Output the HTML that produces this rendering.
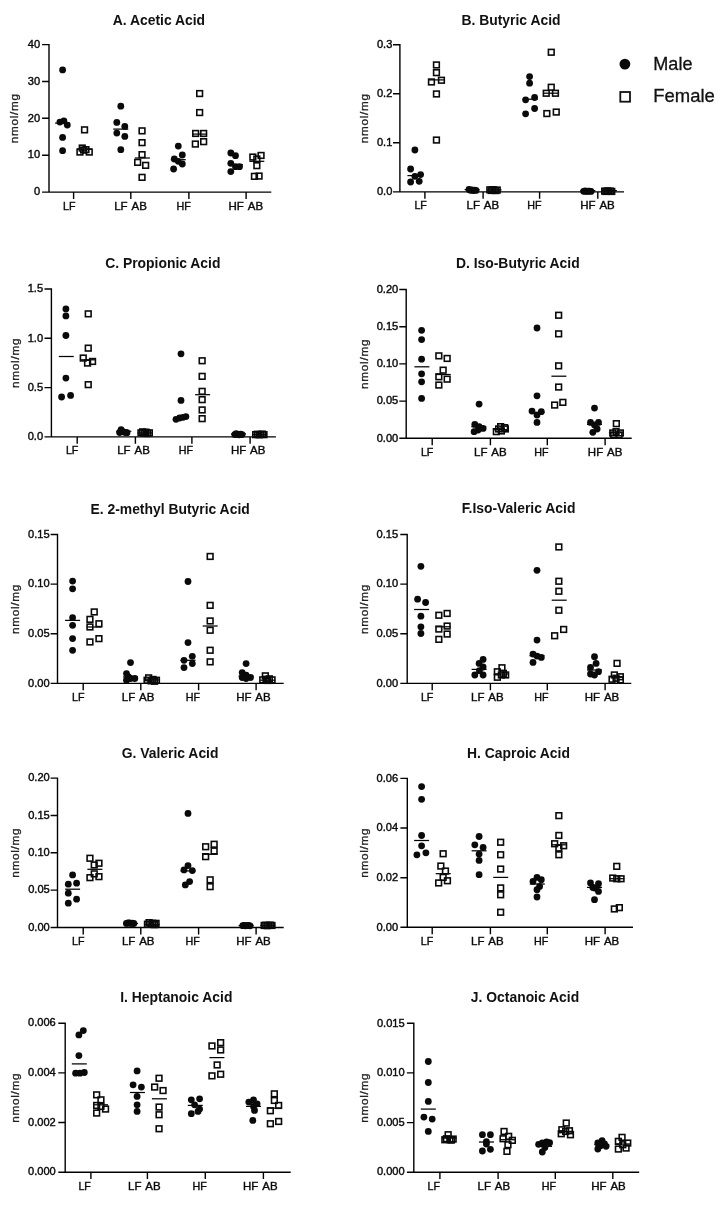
<!DOCTYPE html>
<html><head><meta charset="utf-8"><title>SCFA</title>
<style>
html,body{margin:0;padding:0;background:#fff;}
body{width:722px;height:1207px;overflow:hidden;}
svg{display:block;font-family:"Liberation Sans",sans-serif;filter:blur(0.35px);}
.t{font-size:13.9px;font-weight:bold;text-anchor:middle;fill:#111;}
.k{font-size:11.1px;fill:#0a0a0a;stroke:#0a0a0a;stroke-width:.4;}
.yl{font-size:11.7px;fill:#222;text-anchor:middle;letter-spacing:.75px;stroke:#222;stroke-width:.3;}
.ax{stroke:#000;stroke-width:1.4;fill:none;stroke-linecap:square;}
.m{fill:#0a0a0a;}
.f{fill:none;stroke:#0a0a0a;stroke-width:1.6;}
.mn{stroke:#000;stroke-width:1.25;}
.lg{font-size:18.2px;fill:#111;stroke:#111;stroke-width:.3;}
.xl{font-size:11.5px;stroke-width:.4;word-spacing:1.3px;}
</style></head><body>
<svg width="722" height="1207" viewBox="0 0 722 1207">
<rect width="722" height="1207" fill="#fff"/>

<g>
<text class="t" x="158.9" y="24.8">A. Acetic Acid</text>
<path class="ax" d="M49.0 44.6V192.1H270.6M49.0 192.1h-6.2M49.0 155.2h-6.2M49.0 118.3h-6.2M49.0 81.5h-6.2M49.0 44.6h-6.2M73.6 192.1v6.2M130.8 192.1v6.2M188.9 192.1v6.2M246.1 192.1v6.2"/>
<text class="k" text-anchor="end" x="40.1" y="195.3">0</text>
<text class="k" text-anchor="end" x="40.1" y="158.4">10</text>
<text class="k" text-anchor="end" x="40.1" y="121.5">20</text>
<text class="k" text-anchor="end" x="40.1" y="84.7">30</text>
<text class="k" text-anchor="end" x="40.1" y="47.8">40</text>
<text class="k xl" x="63.1" y="209.6" textLength="12.5" lengthAdjust="spacingAndGlyphs">LF</text>
<text class="k xl" text-anchor="middle" x="130.5" y="209.6">LF AB</text>
<text class="k xl" x="176.6" y="209.6" textLength="14.3" lengthAdjust="spacingAndGlyphs">HF</text>
<text class="k xl" text-anchor="middle" x="245.8" y="209.6">HF AB</text>
<text class="yl" transform="translate(18.3 118.3) rotate(-90)" x="0" y="0">nmol/mg</text>
<path class="mn" d="M55.1 123.1h15.0"/>
<path class="mn" d="M113.3 129.1h15.0"/>
<path class="mn" d="M170.8 159.7h15.0"/>
<path class="mn" d="M228.0 164.7h15.0"/>
<path class="mn" d="M77.0 149.0h15.0"/>
<path class="mn" d="M134.9 158.0h15.0"/>
<path class="mn" d="M192.1 134.1h15.0"/>
<path class="mn" d="M249.3 161.3h15.0"/>
<circle class="m" cx="62.6" cy="69.9" r="3.4"/>
<circle class="m" cx="59.9" cy="122.1" r="3.4"/>
<circle class="m" cx="63.9" cy="120.8" r="3.4"/>
<circle class="m" cx="67.3" cy="125.1" r="3.4"/>
<circle class="m" cx="62.6" cy="137.4" r="3.4"/>
<circle class="m" cx="62.6" cy="150.7" r="3.4"/>
<circle class="m" cx="120.8" cy="106.2" r="3.4"/>
<circle class="m" cx="116.8" cy="122.4" r="3.4"/>
<circle class="m" cx="124.8" cy="126.4" r="3.4"/>
<circle class="m" cx="116.8" cy="133.1" r="3.4"/>
<circle class="m" cx="124.8" cy="136.4" r="3.4"/>
<circle class="m" cx="120.8" cy="149.7" r="3.4"/>
<circle class="m" cx="178.3" cy="146.1" r="3.4"/>
<circle class="m" cx="182.3" cy="155.0" r="3.4"/>
<circle class="m" cx="174.3" cy="159.0" r="3.4"/>
<circle class="m" cx="178.3" cy="161.3" r="3.4"/>
<circle class="m" cx="182.3" cy="164.0" r="3.4"/>
<circle class="m" cx="173.6" cy="169.0" r="3.4"/>
<circle class="m" cx="230.8" cy="153.0" r="3.4"/>
<circle class="m" cx="235.5" cy="155.7" r="3.4"/>
<circle class="m" cx="230.8" cy="163.3" r="3.4"/>
<circle class="m" cx="235.5" cy="166.7" r="3.4"/>
<circle class="m" cx="239.5" cy="166.7" r="3.4"/>
<circle class="m" cx="230.8" cy="171.6" r="3.4"/>
<rect class="f" x="81.7" y="127.0" width="5.7" height="5.7"/>
<rect class="f" x="79.4" y="145.2" width="5.7" height="5.7"/>
<rect class="f" x="77.1" y="149.2" width="5.7" height="5.7"/>
<rect class="f" x="83.1" y="146.8" width="5.7" height="5.7"/>
<rect class="f" x="86.4" y="149.2" width="5.7" height="5.7"/>
<rect class="f" x="80.8" y="147.2" width="5.7" height="5.7"/>
<rect class="f" x="139.2" y="128.0" width="5.7" height="5.7"/>
<rect class="f" x="139.2" y="139.8" width="5.7" height="5.7"/>
<rect class="f" x="139.2" y="151.8" width="5.7" height="5.7"/>
<rect class="f" x="134.8" y="159.5" width="5.7" height="5.7"/>
<rect class="f" x="142.8" y="162.5" width="5.7" height="5.7"/>
<rect class="f" x="139.2" y="174.5" width="5.7" height="5.7"/>
<rect class="f" x="196.8" y="90.7" width="5.7" height="5.7"/>
<rect class="f" x="196.8" y="109.7" width="5.7" height="5.7"/>
<rect class="f" x="192.8" y="130.6" width="5.7" height="5.7"/>
<rect class="f" x="200.8" y="130.6" width="5.7" height="5.7"/>
<rect class="f" x="200.8" y="138.8" width="5.7" height="5.7"/>
<rect class="f" x="192.5" y="141.2" width="5.7" height="5.7"/>
<rect class="f" x="258.2" y="152.6" width="5.7" height="5.7"/>
<rect class="f" x="250.0" y="154.2" width="5.7" height="5.7"/>
<rect class="f" x="254.0" y="156.2" width="5.7" height="5.7"/>
<rect class="f" x="254.0" y="162.8" width="5.7" height="5.7"/>
<rect class="f" x="251.6" y="173.5" width="5.7" height="5.7"/>
<rect class="f" x="256.2" y="173.2" width="5.7" height="5.7"/>
</g>
<g>
<text class="t" x="511.0" y="24.8">B. Butyric Acid</text>
<path class="ax" d="M399.9 44.7V191.9H623.3M399.9 191.9h-6.2M399.9 142.8h-6.2M399.9 93.8h-6.2M399.9 44.7h-6.2M424.9 191.9v6.2M483.1 191.9v6.2M539.6 191.9v6.2M597.8 191.9v6.2"/>
<text class="k" text-anchor="end" x="392.3" y="195.1">0.0</text>
<text class="k" text-anchor="end" x="392.3" y="146.0">0.1</text>
<text class="k" text-anchor="end" x="392.3" y="97.0">0.2</text>
<text class="k" text-anchor="end" x="392.3" y="47.9">0.3</text>
<text class="k xl" x="414.4" y="209.4" textLength="12.5" lengthAdjust="spacingAndGlyphs">LF</text>
<text class="k xl" text-anchor="middle" x="482.8" y="209.4">LF AB</text>
<text class="k xl" x="527.3" y="209.4" textLength="14.3" lengthAdjust="spacingAndGlyphs">HF</text>
<text class="k xl" text-anchor="middle" x="597.5" y="209.4">HF AB</text>
<text class="yl" transform="translate(367.7 118.3) rotate(-90)" x="0" y="0">nmol/mg</text>
<path class="mn" d="M407.4 175.6h15.0"/>
<path class="mn" d="M464.6 189.6h15.0"/>
<path class="mn" d="M522.8 99.2h15.0"/>
<path class="mn" d="M580.3 190.6h15.0"/>
<path class="mn" d="M429.0 79.9h15.0"/>
<path class="mn" d="M486.5 189.9h15.0"/>
<path class="mn" d="M543.7 93.2h15.0"/>
<path class="mn" d="M601.9 190.6h15.0"/>
<circle class="m" cx="414.9" cy="150.0" r="3.4"/>
<circle class="m" cx="410.6" cy="169.0" r="3.4"/>
<circle class="m" cx="420.6" cy="174.6" r="3.4"/>
<circle class="m" cx="414.9" cy="176.3" r="3.4"/>
<circle class="m" cx="410.6" cy="182.0" r="3.4"/>
<circle class="m" cx="419.2" cy="181.3" r="3.4"/>
<circle class="m" cx="469.0" cy="189.5" r="3.4"/>
<circle class="m" cx="470.4" cy="190.3" r="3.4"/>
<circle class="m" cx="471.8" cy="189.8" r="3.4"/>
<circle class="m" cx="473.2" cy="190.5" r="3.4"/>
<circle class="m" cx="474.6" cy="190.1" r="3.4"/>
<circle class="m" cx="476.0" cy="190.4" r="3.4"/>
<circle class="m" cx="529.6" cy="76.6" r="3.4"/>
<circle class="m" cx="529.6" cy="83.2" r="3.4"/>
<circle class="m" cx="534.6" cy="97.5" r="3.4"/>
<circle class="m" cx="525.6" cy="99.8" r="3.4"/>
<circle class="m" cx="534.6" cy="108.5" r="3.4"/>
<circle class="m" cx="525.6" cy="113.8" r="3.4"/>
<circle class="m" cx="583.6" cy="191.3" r="3.4"/>
<circle class="m" cx="585.1" cy="191.0" r="3.4"/>
<circle class="m" cx="586.6" cy="191.4" r="3.4"/>
<circle class="m" cx="588.0" cy="191.2" r="3.4"/>
<circle class="m" cx="589.5" cy="191.1" r="3.4"/>
<circle class="m" cx="591.0" cy="191.4" r="3.4"/>
<rect class="f" x="433.6" y="62.1" width="5.7" height="5.7"/>
<rect class="f" x="433.6" y="69.8" width="5.7" height="5.7"/>
<rect class="f" x="428.6" y="79.1" width="5.7" height="5.7"/>
<rect class="f" x="438.6" y="77.4" width="5.7" height="5.7"/>
<rect class="f" x="433.6" y="91.1" width="5.7" height="5.7"/>
<rect class="f" x="433.6" y="137.2" width="5.7" height="5.7"/>
<rect class="f" x="487.0" y="187.0" width="5.7" height="5.7"/>
<rect class="f" x="488.5" y="187.6" width="5.7" height="5.7"/>
<rect class="f" x="490.0" y="186.8" width="5.7" height="5.7"/>
<rect class="f" x="491.4" y="187.5" width="5.7" height="5.7"/>
<rect class="f" x="492.9" y="187.7" width="5.7" height="5.7"/>
<rect class="f" x="494.4" y="187.2" width="5.7" height="5.7"/>
<rect class="f" x="548.4" y="49.4" width="5.7" height="5.7"/>
<rect class="f" x="548.4" y="84.4" width="5.7" height="5.7"/>
<rect class="f" x="543.4" y="90.4" width="5.7" height="5.7"/>
<rect class="f" x="552.6" y="90.4" width="5.7" height="5.7"/>
<rect class="f" x="544.0" y="110.7" width="5.7" height="5.7"/>
<rect class="f" x="553.4" y="109.2" width="5.7" height="5.7"/>
<rect class="f" x="601.8" y="188.3" width="5.7" height="5.7"/>
<rect class="f" x="603.1" y="188.6" width="5.7" height="5.7"/>
<rect class="f" x="604.6" y="188.2" width="5.7" height="5.7"/>
<rect class="f" x="606.0" y="188.5" width="5.7" height="5.7"/>
<rect class="f" x="607.5" y="188.3" width="5.7" height="5.7"/>
<rect class="f" x="608.9" y="188.6" width="5.7" height="5.7"/>
</g>
<g>
<text class="t" x="162.8" y="268.4">C. Propionic Acid</text>
<path class="ax" d="M51.4 289.0V436.9H275.2M51.4 436.9h-6.2M51.4 387.6h-6.2M51.4 338.3h-6.2M51.4 289.0h-6.2M77.2 436.9v6.2M135.4 436.9v6.2M191.9 436.9v6.2M250.1 436.9v6.2"/>
<text class="k" text-anchor="end" x="43.1" y="440.1">0.0</text>
<text class="k" text-anchor="end" x="43.1" y="390.8">0.5</text>
<text class="k" text-anchor="end" x="43.1" y="341.5">1.0</text>
<text class="k" text-anchor="end" x="43.1" y="292.2">1.5</text>
<text class="k xl" x="65.9" y="454.4" textLength="12.5" lengthAdjust="spacingAndGlyphs">LF</text>
<text class="k xl" text-anchor="middle" x="133.5" y="454.4">LF AB</text>
<text class="k xl" x="178.8" y="454.4" textLength="14.3" lengthAdjust="spacingAndGlyphs">HF</text>
<text class="k xl" text-anchor="middle" x="248.2" y="454.4">HF AB</text>
<text class="yl" transform="translate(18.5 362.9) rotate(-90)" x="0" y="0">nmol/mg</text>
<path class="mn" d="M58.8 356.5h15.0"/>
<path class="mn" d="M116.3 431.3h15.0"/>
<path class="mn" d="M173.5 418.0h15.0"/>
<path class="mn" d="M231.0 433.9h15.0"/>
<path class="mn" d="M80.7 359.8h15.0"/>
<path class="mn" d="M137.6 432.9h15.0"/>
<path class="mn" d="M195.1 394.7h15.0"/>
<path class="mn" d="M252.2 434.6h15.0"/>
<circle class="m" cx="65.9" cy="308.9" r="3.4"/>
<circle class="m" cx="65.9" cy="315.9" r="3.4"/>
<circle class="m" cx="65.9" cy="335.5" r="3.4"/>
<circle class="m" cx="65.9" cy="378.1" r="3.4"/>
<circle class="m" cx="61.6" cy="397.0" r="3.4"/>
<circle class="m" cx="70.6" cy="395.4" r="3.4"/>
<circle class="m" cx="119.6" cy="432.5" r="3.4"/>
<circle class="m" cx="121.1" cy="429.7" r="3.4"/>
<circle class="m" cx="122.6" cy="431.6" r="3.4"/>
<circle class="m" cx="124.0" cy="432.1" r="3.4"/>
<circle class="m" cx="125.5" cy="432.4" r="3.4"/>
<circle class="m" cx="127.0" cy="432.7" r="3.4"/>
<circle class="m" cx="181.0" cy="353.8" r="3.4"/>
<circle class="m" cx="181.0" cy="400.4" r="3.4"/>
<circle class="m" cx="176.0" cy="419.3" r="3.4"/>
<circle class="m" cx="179.6" cy="418.0" r="3.4"/>
<circle class="m" cx="183.0" cy="417.3" r="3.4"/>
<circle class="m" cx="185.9" cy="416.6" r="3.4"/>
<circle class="m" cx="234.8" cy="434.6" r="3.4"/>
<circle class="m" cx="236.2" cy="433.7" r="3.4"/>
<circle class="m" cx="237.7" cy="434.5" r="3.4"/>
<circle class="m" cx="239.1" cy="434.8" r="3.4"/>
<circle class="m" cx="240.6" cy="434.1" r="3.4"/>
<circle class="m" cx="242.1" cy="434.6" r="3.4"/>
<rect class="f" x="85.4" y="311.0" width="5.7" height="5.7"/>
<rect class="f" x="85.4" y="345.3" width="5.7" height="5.7"/>
<rect class="f" x="80.4" y="355.2" width="5.7" height="5.7"/>
<rect class="f" x="89.7" y="358.6" width="5.7" height="5.7"/>
<rect class="f" x="84.7" y="360.2" width="5.7" height="5.7"/>
<rect class="f" x="85.4" y="381.8" width="5.7" height="5.7"/>
<rect class="f" x="138.1" y="430.0" width="5.7" height="5.7"/>
<rect class="f" x="139.8" y="429.0" width="5.7" height="5.7"/>
<rect class="f" x="141.5" y="430.3" width="5.7" height="5.7"/>
<rect class="f" x="143.1" y="429.3" width="5.7" height="5.7"/>
<rect class="f" x="144.8" y="430.6" width="5.7" height="5.7"/>
<rect class="f" x="146.5" y="430.0" width="5.7" height="5.7"/>
<rect class="f" x="199.3" y="357.9" width="5.7" height="5.7"/>
<rect class="f" x="199.3" y="373.5" width="5.7" height="5.7"/>
<rect class="f" x="199.3" y="388.5" width="5.7" height="5.7"/>
<rect class="f" x="199.3" y="396.8" width="5.7" height="5.7"/>
<rect class="f" x="199.3" y="407.1" width="5.7" height="5.7"/>
<rect class="f" x="199.3" y="415.8" width="5.7" height="5.7"/>
<rect class="f" x="252.8" y="431.8" width="5.7" height="5.7"/>
<rect class="f" x="254.5" y="431.4" width="5.7" height="5.7"/>
<rect class="f" x="256.2" y="431.9" width="5.7" height="5.7"/>
<rect class="f" x="257.8" y="431.6" width="5.7" height="5.7"/>
<rect class="f" x="259.5" y="431.3" width="5.7" height="5.7"/>
<rect class="f" x="261.1" y="431.8" width="5.7" height="5.7"/>
</g>
<g>
<text class="t" x="517.8" y="268.2">D. Iso-Butyric Acid</text>
<path class="ax" d="M406.2 289.5V438.3H631.0M406.2 438.3h-6.2M406.2 401.1h-6.2M406.2 363.9h-6.2M406.2 326.7h-6.2M406.2 289.5h-6.2M432.2 438.3v6.2M490.4 438.3v6.2M547.3 438.3v6.2M605.1 438.3v6.2"/>
<text class="k" text-anchor="end" x="398.3" y="441.5">0.00</text>
<text class="k" text-anchor="end" x="398.3" y="404.3">0.05</text>
<text class="k" text-anchor="end" x="398.3" y="367.1">0.10</text>
<text class="k" text-anchor="end" x="398.3" y="329.9">0.15</text>
<text class="k" text-anchor="end" x="398.3" y="292.7">0.20</text>
<text class="k xl" x="420.9" y="455.8" textLength="12.5" lengthAdjust="spacingAndGlyphs">LF</text>
<text class="k xl" text-anchor="middle" x="490.4" y="455.8">LF AB</text>
<text class="k xl" x="534.2" y="455.8" textLength="14.3" lengthAdjust="spacingAndGlyphs">HF</text>
<text class="k xl" text-anchor="middle" x="605.1" y="455.8">HF AB</text>
<text class="yl" transform="translate(367.7 363.9) rotate(-90)" x="0" y="0">nmol/mg</text>
<path class="mn" d="M414.4 366.8h15.0"/>
<path class="mn" d="M471.3 426.7h15.0"/>
<path class="mn" d="M529.5 412.4h15.0"/>
<path class="mn" d="M587.0 424.4h15.0"/>
<path class="mn" d="M435.7 374.5h15.0"/>
<path class="mn" d="M493.2 429.7h15.0"/>
<path class="mn" d="M551.4 376.2h15.0"/>
<path class="mn" d="M608.9 432.7h15.0"/>
<circle class="m" cx="421.6" cy="330.3" r="3.4"/>
<circle class="m" cx="421.6" cy="339.6" r="3.4"/>
<circle class="m" cx="421.6" cy="359.2" r="3.4"/>
<circle class="m" cx="421.6" cy="373.8" r="3.4"/>
<circle class="m" cx="421.6" cy="381.8" r="3.4"/>
<circle class="m" cx="421.6" cy="398.4" r="3.4"/>
<circle class="m" cx="479.1" cy="404.1" r="3.4"/>
<circle class="m" cx="474.8" cy="424.4" r="3.4"/>
<circle class="m" cx="479.1" cy="426.7" r="3.4"/>
<circle class="m" cx="483.1" cy="428.4" r="3.4"/>
<circle class="m" cx="478.1" cy="430.0" r="3.4"/>
<circle class="m" cx="474.1" cy="431.7" r="3.4"/>
<circle class="m" cx="537.0" cy="328.0" r="3.4"/>
<circle class="m" cx="537.0" cy="395.8" r="3.4"/>
<circle class="m" cx="532.0" cy="411.1" r="3.4"/>
<circle class="m" cx="541.3" cy="411.7" r="3.4"/>
<circle class="m" cx="537.0" cy="415.1" r="3.4"/>
<circle class="m" cx="537.0" cy="422.4" r="3.4"/>
<circle class="m" cx="594.5" cy="408.1" r="3.4"/>
<circle class="m" cx="590.5" cy="422.4" r="3.4"/>
<circle class="m" cx="598.5" cy="422.4" r="3.4"/>
<circle class="m" cx="594.5" cy="425.0" r="3.4"/>
<circle class="m" cx="597.1" cy="429.0" r="3.4"/>
<circle class="m" cx="592.8" cy="432.3" r="3.4"/>
<rect class="f" x="436.0" y="353.0" width="5.7" height="5.7"/>
<rect class="f" x="444.3" y="355.6" width="5.7" height="5.7"/>
<rect class="f" x="440.3" y="367.3" width="5.7" height="5.7"/>
<rect class="f" x="436.0" y="373.9" width="5.7" height="5.7"/>
<rect class="f" x="444.3" y="376.3" width="5.7" height="5.7"/>
<rect class="f" x="436.0" y="382.2" width="5.7" height="5.7"/>
<rect class="f" x="497.8" y="423.8" width="5.7" height="5.7"/>
<rect class="f" x="501.8" y="424.8" width="5.7" height="5.7"/>
<rect class="f" x="493.5" y="428.8" width="5.7" height="5.7"/>
<rect class="f" x="498.5" y="428.1" width="5.7" height="5.7"/>
<rect class="f" x="502.5" y="426.1" width="5.7" height="5.7"/>
<rect class="f" x="495.8" y="426.1" width="5.7" height="5.7"/>
<rect class="f" x="555.8" y="312.4" width="5.7" height="5.7"/>
<rect class="f" x="555.8" y="331.0" width="5.7" height="5.7"/>
<rect class="f" x="555.8" y="363.0" width="5.7" height="5.7"/>
<rect class="f" x="555.8" y="384.2" width="5.7" height="5.7"/>
<rect class="f" x="560.0" y="399.5" width="5.7" height="5.7"/>
<rect class="f" x="551.8" y="402.2" width="5.7" height="5.7"/>
<rect class="f" x="613.5" y="420.8" width="5.7" height="5.7"/>
<rect class="f" x="609.9" y="430.1" width="5.7" height="5.7"/>
<rect class="f" x="617.5" y="430.1" width="5.7" height="5.7"/>
<rect class="f" x="613.2" y="428.8" width="5.7" height="5.7"/>
<rect class="f" x="610.9" y="432.1" width="5.7" height="5.7"/>
<rect class="f" x="616.2" y="432.1" width="5.7" height="5.7"/>
</g>
<g>
<text class="t" x="170.1" y="513.5">E. 2-methyl Butyric Acid</text>
<path class="ax" d="M57.5 534.5V683.4H283.0M57.5 683.4h-6.2M57.5 633.8h-6.2M57.5 584.1h-6.2M57.5 534.5h-6.2M83.2 683.4v6.2M140.8 683.4v6.2M198.6 683.4v6.2M256.1 683.4v6.2"/>
<text class="k" text-anchor="end" x="49.7" y="686.6">0.00</text>
<text class="k" text-anchor="end" x="49.7" y="637.0">0.05</text>
<text class="k" text-anchor="end" x="49.7" y="587.3">0.10</text>
<text class="k" text-anchor="end" x="49.7" y="537.7">0.15</text>
<text class="k xl" x="72.1" y="700.9" textLength="12.5" lengthAdjust="spacingAndGlyphs">LF</text>
<text class="k xl" text-anchor="middle" x="138.1" y="700.9">LF AB</text>
<text class="k xl" x="185.7" y="700.9" textLength="14.3" lengthAdjust="spacingAndGlyphs">HF</text>
<text class="k xl" text-anchor="middle" x="253.4" y="700.9">HF AB</text>
<text class="yl" transform="translate(18.5 609.0) rotate(-90)" x="0" y="0">nmol/mg</text>
<path class="mn" d="M65.1 620.4h15.0"/>
<path class="mn" d="M123.0 676.9h15.0"/>
<path class="mn" d="M180.5 660.3h15.0"/>
<path class="mn" d="M238.6 676.2h15.0"/>
<path class="mn" d="M86.7 627.0h15.0"/>
<path class="mn" d="M144.2 679.9h15.0"/>
<path class="mn" d="M202.7 626.0h15.0"/>
<path class="mn" d="M260.3 680.2h15.0"/>
<circle class="m" cx="72.6" cy="581.1" r="3.4"/>
<circle class="m" cx="72.6" cy="588.8" r="3.4"/>
<circle class="m" cx="72.6" cy="617.7" r="3.4"/>
<circle class="m" cx="72.6" cy="625.3" r="3.4"/>
<circle class="m" cx="72.6" cy="638.6" r="3.4"/>
<circle class="m" cx="72.6" cy="650.3" r="3.4"/>
<circle class="m" cx="130.5" cy="662.6" r="3.4"/>
<circle class="m" cx="126.5" cy="673.6" r="3.4"/>
<circle class="m" cx="130.5" cy="678.5" r="3.4"/>
<circle class="m" cx="134.8" cy="678.5" r="3.4"/>
<circle class="m" cx="126.5" cy="680.2" r="3.4"/>
<circle class="m" cx="128.5" cy="676.9" r="3.4"/>
<circle class="m" cx="188.0" cy="581.5" r="3.4"/>
<circle class="m" cx="188.0" cy="642.6" r="3.4"/>
<circle class="m" cx="192.3" cy="656.3" r="3.4"/>
<circle class="m" cx="184.0" cy="660.3" r="3.4"/>
<circle class="m" cx="192.3" cy="663.6" r="3.4"/>
<circle class="m" cx="184.0" cy="667.6" r="3.4"/>
<circle class="m" cx="246.1" cy="663.6" r="3.4"/>
<circle class="m" cx="242.2" cy="672.6" r="3.4"/>
<circle class="m" cx="246.1" cy="675.2" r="3.4"/>
<circle class="m" cx="242.2" cy="677.5" r="3.4"/>
<circle class="m" cx="250.5" cy="677.5" r="3.4"/>
<circle class="m" cx="246.1" cy="678.5" r="3.4"/>
<rect class="f" x="91.4" y="609.1" width="5.7" height="5.7"/>
<rect class="f" x="87.1" y="616.5" width="5.7" height="5.7"/>
<rect class="f" x="96.1" y="620.9" width="5.7" height="5.7"/>
<rect class="f" x="87.1" y="624.1" width="5.7" height="5.7"/>
<rect class="f" x="96.1" y="635.8" width="5.7" height="5.7"/>
<rect class="f" x="87.1" y="639.1" width="5.7" height="5.7"/>
<rect class="f" x="145.8" y="675.0" width="5.7" height="5.7"/>
<rect class="f" x="150.2" y="676.6" width="5.7" height="5.7"/>
<rect class="f" x="153.6" y="677.4" width="5.7" height="5.7"/>
<rect class="f" x="144.2" y="677.4" width="5.7" height="5.7"/>
<rect class="f" x="148.2" y="678.0" width="5.7" height="5.7"/>
<rect class="f" x="151.8" y="678.4" width="5.7" height="5.7"/>
<rect class="f" x="207.3" y="553.6" width="5.7" height="5.7"/>
<rect class="f" x="207.3" y="602.5" width="5.7" height="5.7"/>
<rect class="f" x="207.3" y="618.1" width="5.7" height="5.7"/>
<rect class="f" x="207.3" y="627.4" width="5.7" height="5.7"/>
<rect class="f" x="207.3" y="647.4" width="5.7" height="5.7"/>
<rect class="f" x="207.3" y="659.0" width="5.7" height="5.7"/>
<rect class="f" x="262.5" y="673.0" width="5.7" height="5.7"/>
<rect class="f" x="266.5" y="676.0" width="5.7" height="5.7"/>
<rect class="f" x="259.9" y="677.0" width="5.7" height="5.7"/>
<rect class="f" x="269.2" y="677.0" width="5.7" height="5.7"/>
<rect class="f" x="264.9" y="677.6" width="5.7" height="5.7"/>
<rect class="f" x="263.2" y="676.4" width="5.7" height="5.7"/>
</g>
<g>
<text class="t" x="518.5" y="513.2">F.Iso-Valeric Acid</text>
<path class="ax" d="M407.2 534.5V683.4H630.6M407.2 683.4h-6.2M407.2 633.8h-6.2M407.2 584.1h-6.2M407.2 534.5h-6.2M432.2 683.4v6.2M490.4 683.4v6.2M547.3 683.4v6.2M605.1 683.4v6.2"/>
<text class="k" text-anchor="end" x="398.2" y="686.6">0.00</text>
<text class="k" text-anchor="end" x="398.2" y="637.0">0.05</text>
<text class="k" text-anchor="end" x="398.2" y="587.3">0.10</text>
<text class="k" text-anchor="end" x="398.2" y="537.7">0.15</text>
<text class="k xl" x="420.9" y="700.9" textLength="12.5" lengthAdjust="spacingAndGlyphs">LF</text>
<text class="k xl" text-anchor="middle" x="487.3" y="700.9">LF AB</text>
<text class="k xl" x="534.2" y="700.9" textLength="14.3" lengthAdjust="spacingAndGlyphs">HF</text>
<text class="k xl" text-anchor="middle" x="602.0" y="700.9">HF AB</text>
<text class="yl" transform="translate(367.7 609.0) rotate(-90)" x="0" y="0">nmol/mg</text>
<path class="mn" d="M414.1 609.5h15.0"/>
<path class="mn" d="M471.6 669.4h15.0"/>
<path class="mn" d="M529.5 655.7h15.0"/>
<path class="mn" d="M587.0 670.0h15.0"/>
<path class="mn" d="M435.7 626.8h15.0"/>
<path class="mn" d="M493.9 674.0h15.0"/>
<path class="mn" d="M551.7 600.2h15.0"/>
<path class="mn" d="M608.9 676.7h15.0"/>
<circle class="m" cx="420.9" cy="566.3" r="3.4"/>
<circle class="m" cx="417.6" cy="599.2" r="3.4"/>
<circle class="m" cx="425.6" cy="602.5" r="3.4"/>
<circle class="m" cx="420.9" cy="616.2" r="3.4"/>
<circle class="m" cx="420.9" cy="626.8" r="3.4"/>
<circle class="m" cx="420.9" cy="633.5" r="3.4"/>
<circle class="m" cx="483.1" cy="659.4" r="3.4"/>
<circle class="m" cx="479.1" cy="663.4" r="3.4"/>
<circle class="m" cx="483.1" cy="667.0" r="3.4"/>
<circle class="m" cx="479.4" cy="670.7" r="3.4"/>
<circle class="m" cx="474.8" cy="675.0" r="3.4"/>
<circle class="m" cx="483.1" cy="675.0" r="3.4"/>
<circle class="m" cx="537.0" cy="570.3" r="3.4"/>
<circle class="m" cx="537.0" cy="640.1" r="3.4"/>
<circle class="m" cx="533.0" cy="654.1" r="3.4"/>
<circle class="m" cx="537.0" cy="656.1" r="3.4"/>
<circle class="m" cx="541.3" cy="657.4" r="3.4"/>
<circle class="m" cx="533.0" cy="662.4" r="3.4"/>
<circle class="m" cx="594.5" cy="656.7" r="3.4"/>
<circle class="m" cx="590.5" cy="667.4" r="3.4"/>
<circle class="m" cx="596.1" cy="663.4" r="3.4"/>
<circle class="m" cx="598.5" cy="671.7" r="3.4"/>
<circle class="m" cx="590.5" cy="674.0" r="3.4"/>
<circle class="m" cx="594.5" cy="675.0" r="3.4"/>
<rect class="f" x="444.3" y="610.6" width="5.7" height="5.7"/>
<rect class="f" x="436.0" y="612.4" width="5.7" height="5.7"/>
<rect class="f" x="444.3" y="623.2" width="5.7" height="5.7"/>
<rect class="f" x="436.0" y="626.2" width="5.7" height="5.7"/>
<rect class="f" x="444.3" y="631.2" width="5.7" height="5.7"/>
<rect class="f" x="436.0" y="636.5" width="5.7" height="5.7"/>
<rect class="f" x="499.1" y="664.9" width="5.7" height="5.7"/>
<rect class="f" x="494.5" y="668.9" width="5.7" height="5.7"/>
<rect class="f" x="498.5" y="672.1" width="5.7" height="5.7"/>
<rect class="f" x="502.8" y="672.1" width="5.7" height="5.7"/>
<rect class="f" x="494.5" y="674.4" width="5.7" height="5.7"/>
<rect class="f" x="500.5" y="670.5" width="5.7" height="5.7"/>
<rect class="f" x="556.0" y="544.1" width="5.7" height="5.7"/>
<rect class="f" x="556.0" y="578.4" width="5.7" height="5.7"/>
<rect class="f" x="556.0" y="588.4" width="5.7" height="5.7"/>
<rect class="f" x="556.0" y="607.4" width="5.7" height="5.7"/>
<rect class="f" x="560.8" y="626.6" width="5.7" height="5.7"/>
<rect class="f" x="551.8" y="632.9" width="5.7" height="5.7"/>
<rect class="f" x="614.2" y="660.5" width="5.7" height="5.7"/>
<rect class="f" x="611.5" y="672.1" width="5.7" height="5.7"/>
<rect class="f" x="617.5" y="673.9" width="5.7" height="5.7"/>
<rect class="f" x="609.2" y="676.4" width="5.7" height="5.7"/>
<rect class="f" x="617.5" y="677.1" width="5.7" height="5.7"/>
<rect class="f" x="613.2" y="675.4" width="5.7" height="5.7"/>
</g>
<g>
<text class="t" x="170.1" y="758.1">G. Valeric Acid</text>
<path class="ax" d="M57.5 778.1V927.5H283.0M57.5 927.5h-6.2M57.5 890.1h-6.2M57.5 852.8h-6.2M57.5 815.5h-6.2M57.5 778.1h-6.2M83.2 927.5v6.2M140.8 927.5v6.2M198.6 927.5v6.2M256.1 927.5v6.2"/>
<text class="k" text-anchor="end" x="49.8" y="930.7">0.00</text>
<text class="k" text-anchor="end" x="49.8" y="893.4">0.05</text>
<text class="k" text-anchor="end" x="49.8" y="856.0">0.10</text>
<text class="k" text-anchor="end" x="49.8" y="818.7">0.15</text>
<text class="k" text-anchor="end" x="49.8" y="781.3">0.20</text>
<text class="k xl" x="72.0" y="945.0" textLength="12.5" lengthAdjust="spacingAndGlyphs">LF</text>
<text class="k xl" text-anchor="middle" x="138.2" y="945.0">LF AB</text>
<text class="k xl" x="185.6" y="945.0" textLength="14.3" lengthAdjust="spacingAndGlyphs">HF</text>
<text class="k xl" text-anchor="middle" x="253.5" y="945.0">HF AB</text>
<text class="yl" transform="translate(18.5 852.8) rotate(-90)" x="0" y="0">nmol/mg</text>
<path class="mn" d="M65.1 889.2h15.0"/>
<path class="mn" d="M123.0 923.5h15.0"/>
<path class="mn" d="M180.5 870.9h15.0"/>
<path class="mn" d="M238.6 925.5h15.0"/>
<path class="mn" d="M87.4 869.3h15.0"/>
<path class="mn" d="M144.6 924.5h15.0"/>
<path class="mn" d="M202.7 854.3h15.0"/>
<path class="mn" d="M260.3 925.5h15.0"/>
<circle class="m" cx="72.6" cy="874.9" r="3.4"/>
<circle class="m" cx="68.3" cy="884.2" r="3.4"/>
<circle class="m" cx="76.6" cy="883.2" r="3.4"/>
<circle class="m" cx="68.3" cy="893.2" r="3.4"/>
<circle class="m" cx="76.6" cy="899.2" r="3.4"/>
<circle class="m" cx="68.3" cy="903.2" r="3.4"/>
<circle class="m" cx="126.4" cy="923.5" r="3.4"/>
<circle class="m" cx="127.9" cy="922.8" r="3.4"/>
<circle class="m" cx="129.4" cy="923.0" r="3.4"/>
<circle class="m" cx="130.8" cy="923.4" r="3.4"/>
<circle class="m" cx="132.3" cy="923.2" r="3.4"/>
<circle class="m" cx="133.8" cy="923.5" r="3.4"/>
<circle class="m" cx="188.0" cy="813.4" r="3.4"/>
<circle class="m" cx="188.0" cy="865.6" r="3.4"/>
<circle class="m" cx="184.0" cy="869.9" r="3.4"/>
<circle class="m" cx="192.3" cy="870.6" r="3.4"/>
<circle class="m" cx="189.6" cy="881.6" r="3.4"/>
<circle class="m" cx="185.3" cy="884.9" r="3.4"/>
<circle class="m" cx="242.8" cy="925.7" r="3.4"/>
<circle class="m" cx="244.2" cy="925.4" r="3.4"/>
<circle class="m" cx="245.7" cy="925.8" r="3.4"/>
<circle class="m" cx="247.1" cy="925.6" r="3.4"/>
<circle class="m" cx="248.6" cy="925.5" r="3.4"/>
<circle class="m" cx="250.1" cy="925.8" r="3.4"/>
<rect class="f" x="87.1" y="855.4" width="5.7" height="5.7"/>
<rect class="f" x="96.1" y="860.4" width="5.7" height="5.7"/>
<rect class="f" x="91.4" y="862.1" width="5.7" height="5.7"/>
<rect class="f" x="91.4" y="871.0" width="5.7" height="5.7"/>
<rect class="f" x="87.1" y="874.8" width="5.7" height="5.7"/>
<rect class="f" x="96.1" y="873.8" width="5.7" height="5.7"/>
<rect class="f" x="144.6" y="921.4" width="5.7" height="5.7"/>
<rect class="f" x="146.2" y="919.8" width="5.7" height="5.7"/>
<rect class="f" x="148.0" y="921.5" width="5.7" height="5.7"/>
<rect class="f" x="149.8" y="920.4" width="5.7" height="5.7"/>
<rect class="f" x="151.5" y="921.8" width="5.7" height="5.7"/>
<rect class="f" x="153.2" y="920.5" width="5.7" height="5.7"/>
<rect class="f" x="202.8" y="843.9" width="5.7" height="5.7"/>
<rect class="f" x="211.3" y="841.4" width="5.7" height="5.7"/>
<rect class="f" x="211.3" y="848.1" width="5.7" height="5.7"/>
<rect class="f" x="202.8" y="853.8" width="5.7" height="5.7"/>
<rect class="f" x="207.3" y="877.0" width="5.7" height="5.7"/>
<rect class="f" x="207.3" y="883.8" width="5.7" height="5.7"/>
<rect class="f" x="261.3" y="922.6" width="5.7" height="5.7"/>
<rect class="f" x="262.9" y="922.4" width="5.7" height="5.7"/>
<rect class="f" x="264.4" y="922.8" width="5.7" height="5.7"/>
<rect class="f" x="266.0" y="922.5" width="5.7" height="5.7"/>
<rect class="f" x="267.5" y="922.4" width="5.7" height="5.7"/>
<rect class="f" x="269.1" y="922.6" width="5.7" height="5.7"/>
</g>
<g>
<text class="t" x="518.5" y="757.9">H. Caproic Acid</text>
<path class="ax" d="M407.3 778.4V927.3H632.3M407.3 927.3h-6.2M407.3 877.7h-6.2M407.3 828.0h-6.2M407.3 778.4h-6.2M432.2 927.3v6.2M490.4 927.3v6.2M547.3 927.3v6.2M605.1 927.3v6.2"/>
<text class="k" text-anchor="end" x="398.2" y="930.5">0.00</text>
<text class="k" text-anchor="end" x="398.2" y="880.9">0.02</text>
<text class="k" text-anchor="end" x="398.2" y="831.2">0.04</text>
<text class="k" text-anchor="end" x="398.2" y="781.6">0.06</text>
<text class="k xl" x="420.7" y="944.8" textLength="12.5" lengthAdjust="spacingAndGlyphs">LF</text>
<text class="k xl" text-anchor="middle" x="487.3" y="944.8">LF AB</text>
<text class="k xl" x="534.0" y="944.8" textLength="14.3" lengthAdjust="spacingAndGlyphs">HF</text>
<text class="k xl" text-anchor="middle" x="602.0" y="944.8">HF AB</text>
<text class="yl" transform="translate(367.7 852.8) rotate(-90)" x="0" y="0">nmol/mg</text>
<path class="mn" d="M414.1 840.5h15.0"/>
<path class="mn" d="M471.6 850.8h15.0"/>
<path class="mn" d="M529.8 884.0h15.0"/>
<path class="mn" d="M587.0 887.4h15.0"/>
<path class="mn" d="M435.7 873.7h15.0"/>
<path class="mn" d="M493.2 877.4h15.0"/>
<path class="mn" d="M551.7 844.8h15.0"/>
<path class="mn" d="M609.2 878.7h15.0"/>
<circle class="m" cx="421.6" cy="786.6" r="3.4"/>
<circle class="m" cx="421.6" cy="799.3" r="3.4"/>
<circle class="m" cx="421.6" cy="835.5" r="3.4"/>
<circle class="m" cx="421.6" cy="845.8" r="3.4"/>
<circle class="m" cx="416.9" cy="854.8" r="3.4"/>
<circle class="m" cx="425.9" cy="852.8" r="3.4"/>
<circle class="m" cx="479.1" cy="836.5" r="3.4"/>
<circle class="m" cx="474.8" cy="844.8" r="3.4"/>
<circle class="m" cx="483.1" cy="847.5" r="3.4"/>
<circle class="m" cx="479.1" cy="854.1" r="3.4"/>
<circle class="m" cx="479.1" cy="860.4" r="3.4"/>
<circle class="m" cx="479.1" cy="874.7" r="3.4"/>
<circle class="m" cx="537.0" cy="877.4" r="3.4"/>
<circle class="m" cx="533.0" cy="881.4" r="3.4"/>
<circle class="m" cx="541.3" cy="879.7" r="3.4"/>
<circle class="m" cx="539.6" cy="886.4" r="3.4"/>
<circle class="m" cx="537.0" cy="889.7" r="3.4"/>
<circle class="m" cx="537.0" cy="897.0" r="3.4"/>
<circle class="m" cx="590.5" cy="883.0" r="3.4"/>
<circle class="m" cx="598.5" cy="883.7" r="3.4"/>
<circle class="m" cx="594.5" cy="888.0" r="3.4"/>
<circle class="m" cx="598.5" cy="891.4" r="3.4"/>
<circle class="m" cx="594.5" cy="899.7" r="3.4"/>
<circle class="m" cx="592.8" cy="887.4" r="3.4"/>
<rect class="f" x="440.3" y="850.9" width="5.7" height="5.7"/>
<rect class="f" x="438.0" y="863.2" width="5.7" height="5.7"/>
<rect class="f" x="442.6" y="868.2" width="5.7" height="5.7"/>
<rect class="f" x="440.3" y="874.5" width="5.7" height="5.7"/>
<rect class="f" x="435.8" y="880.1" width="5.7" height="5.7"/>
<rect class="f" x="444.6" y="877.9" width="5.7" height="5.7"/>
<rect class="f" x="497.8" y="839.4" width="5.7" height="5.7"/>
<rect class="f" x="497.8" y="851.9" width="5.7" height="5.7"/>
<rect class="f" x="497.8" y="866.2" width="5.7" height="5.7"/>
<rect class="f" x="497.8" y="885.1" width="5.7" height="5.7"/>
<rect class="f" x="497.8" y="891.9" width="5.7" height="5.7"/>
<rect class="f" x="497.8" y="909.4" width="5.7" height="5.7"/>
<rect class="f" x="556.0" y="812.8" width="5.7" height="5.7"/>
<rect class="f" x="556.0" y="832.6" width="5.7" height="5.7"/>
<rect class="f" x="551.8" y="840.9" width="5.7" height="5.7"/>
<rect class="f" x="560.8" y="842.9" width="5.7" height="5.7"/>
<rect class="f" x="556.0" y="851.9" width="5.7" height="5.7"/>
<rect class="f" x="556.0" y="845.2" width="5.7" height="5.7"/>
<rect class="f" x="613.9" y="863.5" width="5.7" height="5.7"/>
<rect class="f" x="609.9" y="875.2" width="5.7" height="5.7"/>
<rect class="f" x="618.2" y="875.9" width="5.7" height="5.7"/>
<rect class="f" x="613.9" y="875.9" width="5.7" height="5.7"/>
<rect class="f" x="611.5" y="906.1" width="5.7" height="5.7"/>
<rect class="f" x="616.5" y="904.8" width="5.7" height="5.7"/>
</g>
<g>
<text class="t" x="176.3" y="1002.2">I. Heptanoic Acid</text>
<path class="ax" d="M65.2 1023.2V1172.2H290.0M65.2 1172.2h-6.2M65.2 1122.5h-6.2M65.2 1072.9h-6.2M65.2 1023.2h-6.2M90.9 1172.2v6.2M147.4 1172.2v6.2M205.3 1172.2v6.2M263.4 1172.2v6.2"/>
<text class="k" text-anchor="end" x="55.8" y="1175.4">0.000</text>
<text class="k" text-anchor="end" x="55.8" y="1125.7">0.002</text>
<text class="k" text-anchor="end" x="55.8" y="1076.1">0.004</text>
<text class="k" text-anchor="end" x="55.8" y="1026.4">0.006</text>
<text class="k xl" x="78.4" y="1189.7" textLength="12.5" lengthAdjust="spacingAndGlyphs">LF</text>
<text class="k xl" text-anchor="middle" x="144.3" y="1189.7">LF AB</text>
<text class="k xl" x="192.6" y="1189.7" textLength="14.3" lengthAdjust="spacingAndGlyphs">HF</text>
<text class="k xl" text-anchor="middle" x="260.3" y="1189.7">HF AB</text>
<text class="yl" transform="translate(18.5 1097.7) rotate(-90)" x="0" y="0">nmol/mg</text>
<path class="mn" d="M71.8 1063.9h15.0"/>
<path class="mn" d="M129.9 1092.5h15.0"/>
<path class="mn" d="M187.8 1105.4h15.0"/>
<path class="mn" d="M246.0 1106.4h15.0"/>
<path class="mn" d="M93.0 1104.8h15.0"/>
<path class="mn" d="M151.9 1098.8h15.0"/>
<path class="mn" d="M209.4 1057.6h15.0"/>
<path class="mn" d="M266.9 1108.1h15.0"/>
<circle class="m" cx="83.3" cy="1030.6" r="3.4"/>
<circle class="m" cx="78.9" cy="1034.9" r="3.4"/>
<circle class="m" cx="78.9" cy="1055.6" r="3.4"/>
<circle class="m" cx="75.6" cy="1073.2" r="3.4"/>
<circle class="m" cx="79.9" cy="1073.2" r="3.4"/>
<circle class="m" cx="84.3" cy="1072.5" r="3.4"/>
<circle class="m" cx="137.1" cy="1070.9" r="3.4"/>
<circle class="m" cx="133.1" cy="1084.8" r="3.4"/>
<circle class="m" cx="141.4" cy="1087.1" r="3.4"/>
<circle class="m" cx="137.1" cy="1096.4" r="3.4"/>
<circle class="m" cx="137.1" cy="1104.8" r="3.4"/>
<circle class="m" cx="137.1" cy="1111.4" r="3.4"/>
<circle class="m" cx="191.3" cy="1099.8" r="3.4"/>
<circle class="m" cx="199.6" cy="1098.8" r="3.4"/>
<circle class="m" cx="194.6" cy="1104.8" r="3.4"/>
<circle class="m" cx="199.6" cy="1109.1" r="3.4"/>
<circle class="m" cx="191.3" cy="1113.7" r="3.4"/>
<circle class="m" cx="198.0" cy="1111.4" r="3.4"/>
<circle class="m" cx="253.5" cy="1099.8" r="3.4"/>
<circle class="m" cx="248.8" cy="1102.1" r="3.4"/>
<circle class="m" cx="257.1" cy="1103.8" r="3.4"/>
<circle class="m" cx="253.5" cy="1106.4" r="3.4"/>
<circle class="m" cx="254.5" cy="1110.4" r="3.4"/>
<circle class="m" cx="252.8" cy="1120.4" r="3.4"/>
<rect class="f" x="93.8" y="1092.0" width="5.7" height="5.7"/>
<rect class="f" x="98.1" y="1097.0" width="5.7" height="5.7"/>
<rect class="f" x="93.8" y="1102.6" width="5.7" height="5.7"/>
<rect class="f" x="98.1" y="1103.6" width="5.7" height="5.7"/>
<rect class="f" x="102.7" y="1106.2" width="5.7" height="5.7"/>
<rect class="f" x="93.8" y="1110.2" width="5.7" height="5.7"/>
<rect class="f" x="156.2" y="1075.4" width="5.7" height="5.7"/>
<rect class="f" x="151.8" y="1084.2" width="5.7" height="5.7"/>
<rect class="f" x="160.2" y="1087.7" width="5.7" height="5.7"/>
<rect class="f" x="156.2" y="1104.2" width="5.7" height="5.7"/>
<rect class="f" x="156.2" y="1111.9" width="5.7" height="5.7"/>
<rect class="f" x="156.2" y="1125.9" width="5.7" height="5.7"/>
<rect class="f" x="217.8" y="1039.8" width="5.7" height="5.7"/>
<rect class="f" x="209.1" y="1043.1" width="5.7" height="5.7"/>
<rect class="f" x="217.8" y="1047.1" width="5.7" height="5.7"/>
<rect class="f" x="214.3" y="1062.1" width="5.7" height="5.7"/>
<rect class="f" x="209.1" y="1073.0" width="5.7" height="5.7"/>
<rect class="f" x="217.8" y="1071.4" width="5.7" height="5.7"/>
<rect class="f" x="271.5" y="1091.0" width="5.7" height="5.7"/>
<rect class="f" x="271.5" y="1097.6" width="5.7" height="5.7"/>
<rect class="f" x="275.8" y="1102.6" width="5.7" height="5.7"/>
<rect class="f" x="267.5" y="1107.9" width="5.7" height="5.7"/>
<rect class="f" x="275.8" y="1118.6" width="5.7" height="5.7"/>
<rect class="f" x="267.5" y="1120.9" width="5.7" height="5.7"/>
</g>
<g>
<text class="t" x="525.0" y="1002.2">J. Octanoic Acid</text>
<path class="ax" d="M413.8 1023.3V1172.2H638.5M413.8 1172.2h-6.2M413.8 1122.6h-6.2M413.8 1072.9h-6.2M413.8 1023.3h-6.2M439.9 1172.2v6.2M498.1 1172.2v6.2M555.3 1172.2v6.2M612.8 1172.2v6.2"/>
<text class="k" text-anchor="end" x="404.7" y="1175.4">0.000</text>
<text class="k" text-anchor="end" x="404.7" y="1125.8">0.005</text>
<text class="k" text-anchor="end" x="404.7" y="1076.1">0.010</text>
<text class="k" text-anchor="end" x="404.7" y="1026.5">0.015</text>
<text class="k xl" x="427.6" y="1189.7" textLength="12.5" lengthAdjust="spacingAndGlyphs">LF</text>
<text class="k xl" text-anchor="middle" x="493.8" y="1189.7">LF AB</text>
<text class="k xl" x="541.8" y="1189.7" textLength="14.3" lengthAdjust="spacingAndGlyphs">HF</text>
<text class="k xl" text-anchor="middle" x="608.5" y="1189.7">HF AB</text>
<text class="yl" transform="translate(367.7 1097.8) rotate(-90)" x="0" y="0">nmol/mg</text>
<path class="mn" d="M420.8 1109.1h15.0"/>
<path class="mn" d="M478.9 1142.0h15.0"/>
<path class="mn" d="M537.1 1146.3h15.0"/>
<path class="mn" d="M594.3 1144.7h15.0"/>
<path class="mn" d="M441.7 1138.0h15.0"/>
<path class="mn" d="M499.9 1139.7h15.0"/>
<path class="mn" d="M558.7 1131.4h15.0"/>
<path class="mn" d="M615.2 1144.0h15.0"/>
<circle class="m" cx="428.3" cy="1061.5" r="3.4"/>
<circle class="m" cx="428.3" cy="1082.5" r="3.4"/>
<circle class="m" cx="428.3" cy="1101.4" r="3.4"/>
<circle class="m" cx="423.9" cy="1117.1" r="3.4"/>
<circle class="m" cx="432.2" cy="1119.1" r="3.4"/>
<circle class="m" cx="428.3" cy="1131.4" r="3.4"/>
<circle class="m" cx="482.4" cy="1134.7" r="3.4"/>
<circle class="m" cx="490.4" cy="1134.7" r="3.4"/>
<circle class="m" cx="486.4" cy="1141.7" r="3.4"/>
<circle class="m" cx="482.4" cy="1151.0" r="3.4"/>
<circle class="m" cx="490.4" cy="1149.3" r="3.4"/>
<circle class="m" cx="486.4" cy="1144.0" r="3.4"/>
<circle class="m" cx="538.6" cy="1144.3" r="3.4"/>
<circle class="m" cx="542.3" cy="1143.0" r="3.4"/>
<circle class="m" cx="546.6" cy="1142.0" r="3.4"/>
<circle class="m" cx="549.6" cy="1142.7" r="3.4"/>
<circle class="m" cx="544.9" cy="1147.6" r="3.4"/>
<circle class="m" cx="542.3" cy="1152.0" r="3.4"/>
<circle class="m" cx="602.1" cy="1140.7" r="3.4"/>
<circle class="m" cx="597.8" cy="1143.0" r="3.4"/>
<circle class="m" cx="604.5" cy="1144.0" r="3.4"/>
<circle class="m" cx="600.5" cy="1145.7" r="3.4"/>
<circle class="m" cx="597.8" cy="1149.0" r="3.4"/>
<circle class="m" cx="606.1" cy="1146.3" r="3.4"/>
<rect class="f" x="445.3" y="1131.9" width="5.7" height="5.7"/>
<rect class="f" x="442.0" y="1136.9" width="5.7" height="5.7"/>
<rect class="f" x="447.0" y="1136.9" width="5.7" height="5.7"/>
<rect class="f" x="450.3" y="1136.2" width="5.7" height="5.7"/>
<rect class="f" x="443.6" y="1135.9" width="5.7" height="5.7"/>
<rect class="f" x="448.6" y="1137.2" width="5.7" height="5.7"/>
<rect class="f" x="501.2" y="1128.6" width="5.7" height="5.7"/>
<rect class="f" x="505.8" y="1133.5" width="5.7" height="5.7"/>
<rect class="f" x="500.2" y="1135.9" width="5.7" height="5.7"/>
<rect class="f" x="509.5" y="1137.5" width="5.7" height="5.7"/>
<rect class="f" x="505.1" y="1141.9" width="5.7" height="5.7"/>
<rect class="f" x="504.1" y="1148.5" width="5.7" height="5.7"/>
<rect class="f" x="563.4" y="1120.2" width="5.7" height="5.7"/>
<rect class="f" x="559.0" y="1126.9" width="5.7" height="5.7"/>
<rect class="f" x="566.6" y="1127.9" width="5.7" height="5.7"/>
<rect class="f" x="562.8" y="1128.6" width="5.7" height="5.7"/>
<rect class="f" x="558.4" y="1130.9" width="5.7" height="5.7"/>
<rect class="f" x="567.6" y="1131.9" width="5.7" height="5.7"/>
<rect class="f" x="619.2" y="1134.5" width="5.7" height="5.7"/>
<rect class="f" x="615.5" y="1138.5" width="5.7" height="5.7"/>
<rect class="f" x="624.9" y="1140.2" width="5.7" height="5.7"/>
<rect class="f" x="619.9" y="1141.9" width="5.7" height="5.7"/>
<rect class="f" x="615.5" y="1146.2" width="5.7" height="5.7"/>
<rect class="f" x="623.2" y="1145.2" width="5.7" height="5.7"/>
</g>
<circle class="m" cx="624.9" cy="64.1" r="5.4"/>
<rect x="620.3" y="92.0" width="9.7" height="9.7" fill="#fff" stroke="#111" stroke-width="1.8"/>
<text class="lg" x="653.3" y="69.6" textLength="39.2" lengthAdjust="spacingAndGlyphs">Male</text>
<text class="lg" x="653.3" y="101.5" textLength="61.6" lengthAdjust="spacingAndGlyphs">Female</text>
</svg></body></html>
